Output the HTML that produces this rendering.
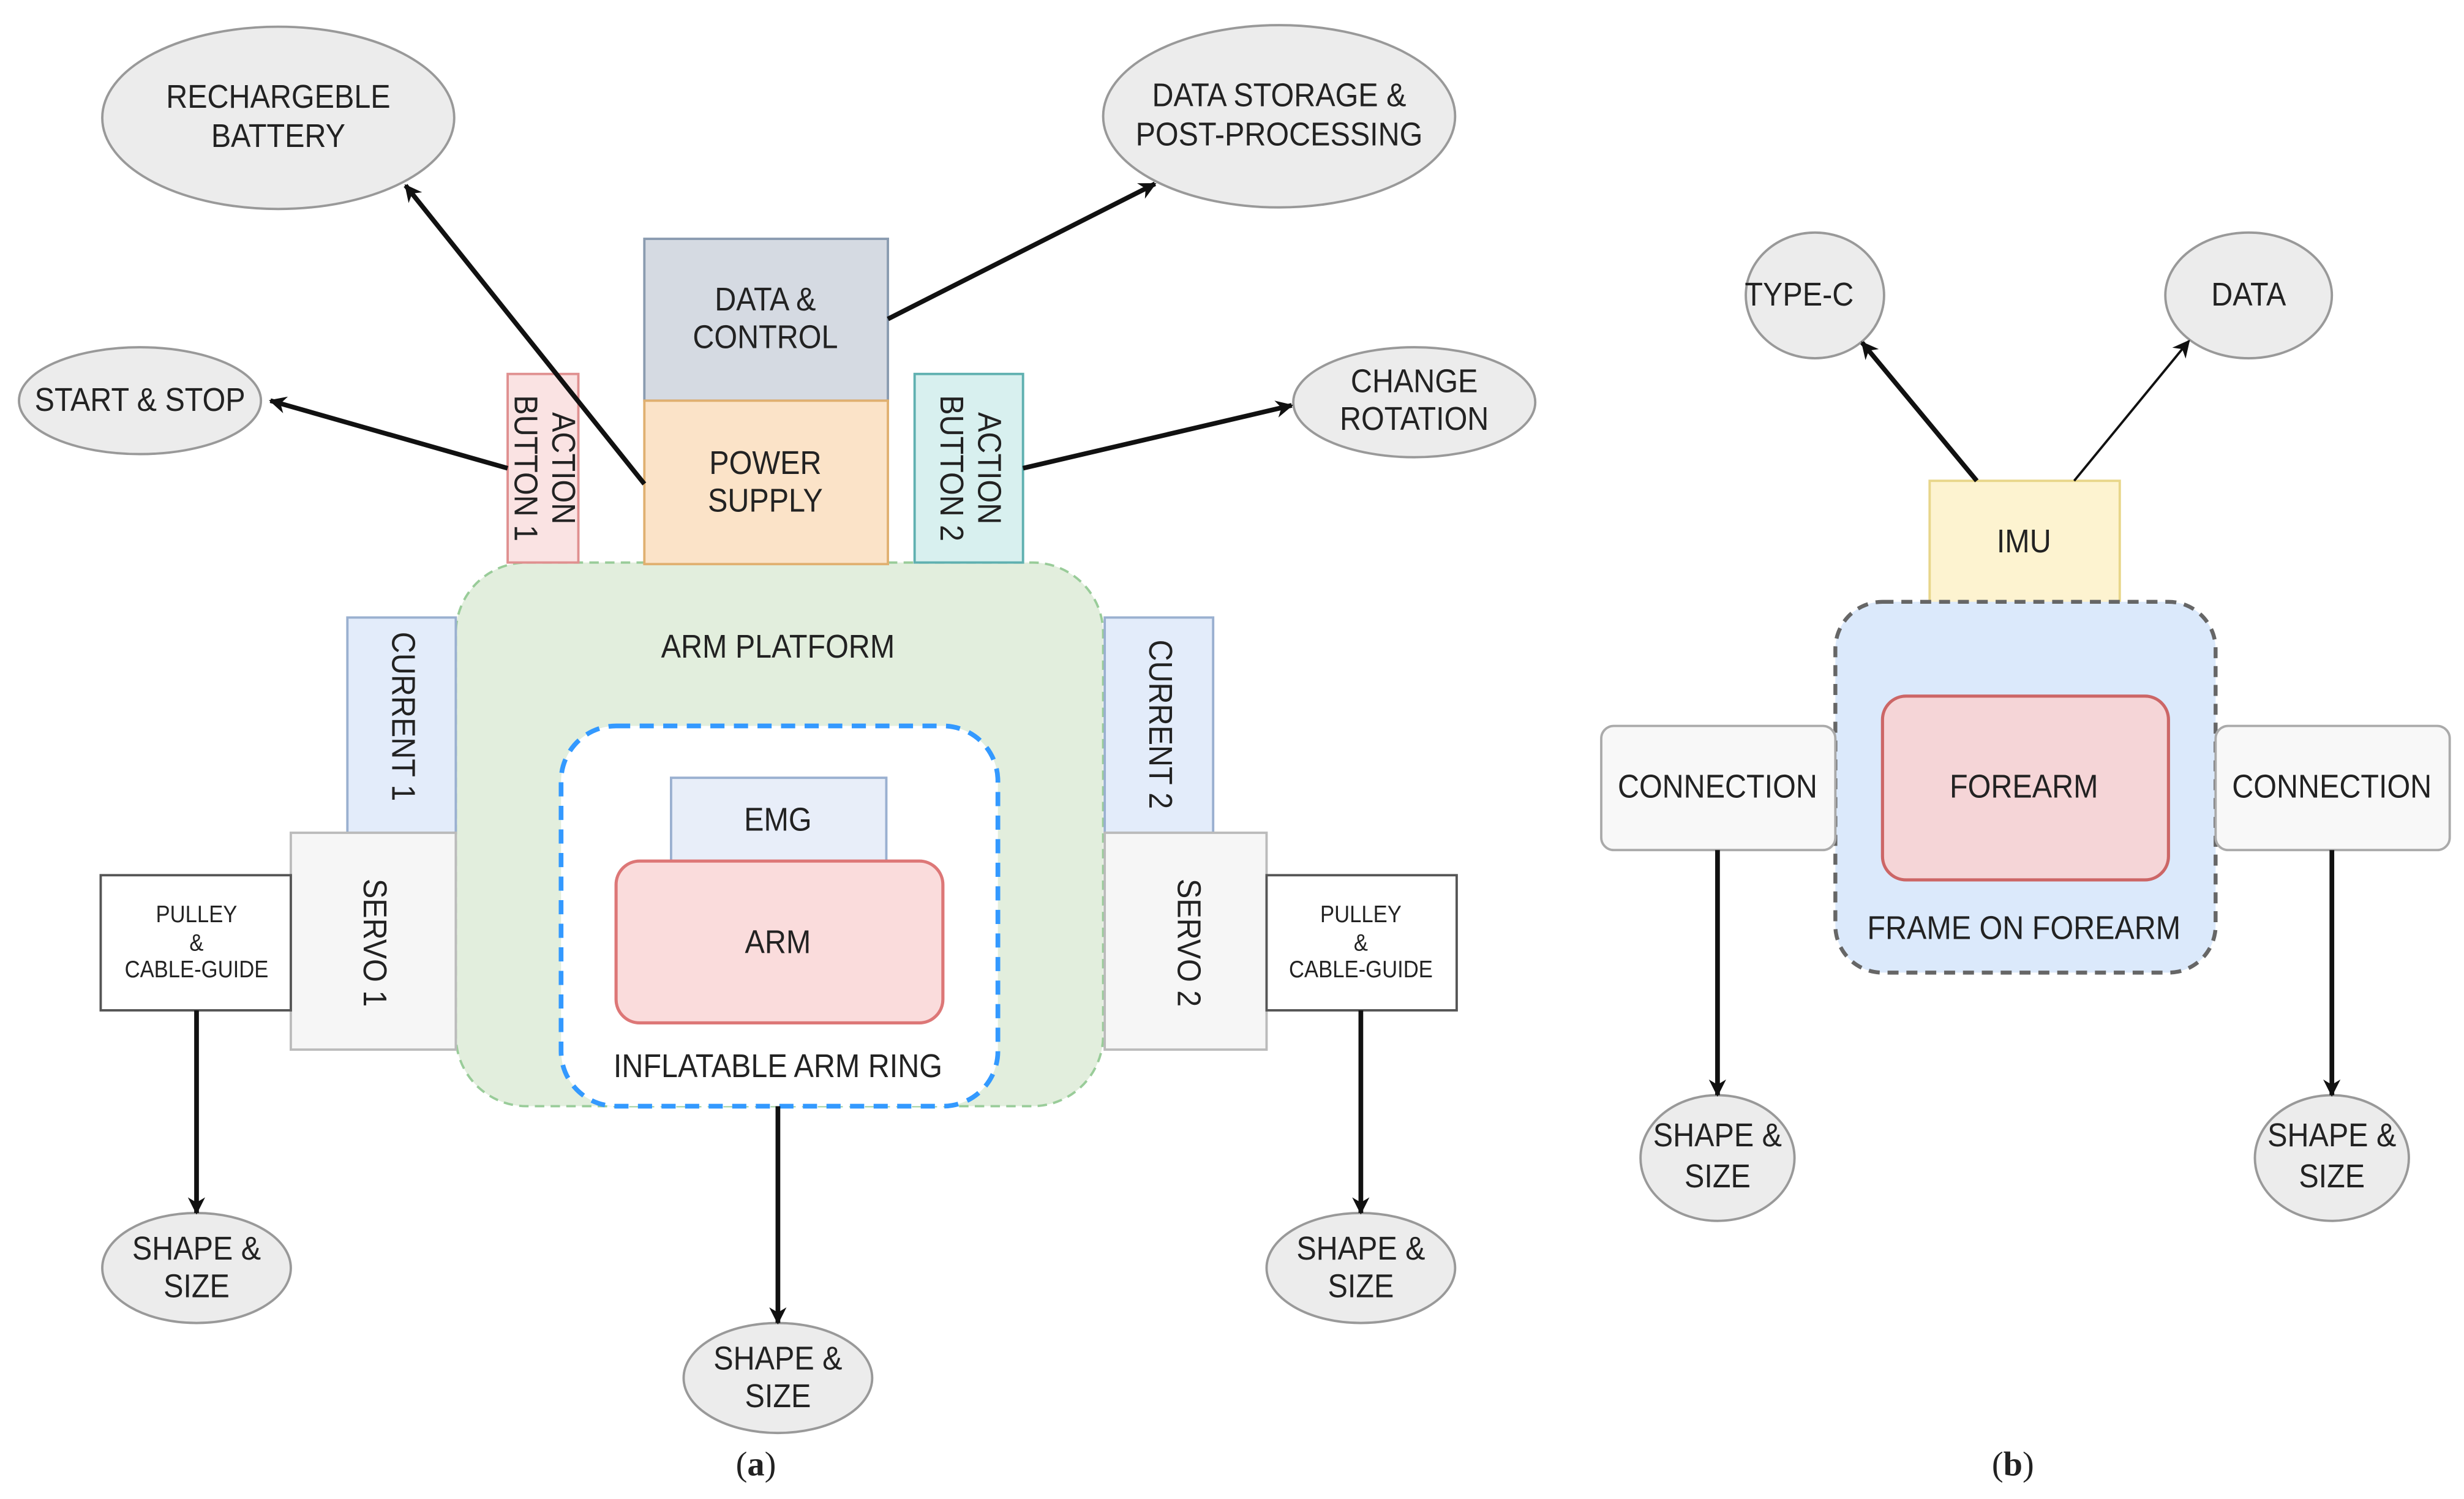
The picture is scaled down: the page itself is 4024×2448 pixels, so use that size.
<!DOCTYPE html>
<html><head><meta charset="utf-8"><style>
html,body{margin:0;padding:0;background:#fff;width:4024px;height:2448px;overflow:hidden}
svg{display:block}
text{font-family:"Liberation Sans Narrow","Liberation Sans",sans-serif;fill:#222;text-anchor:middle;dominant-baseline:middle;transform-box:fill-box;transform-origin:center;transform:scaleX(0.9)}
text.cap{transform:none}
</style></head><body>
<svg width="4024" height="2448" viewBox="0 0 1568 954" xmlns="http://www.w3.org/2000/svg">
<defs>
<marker id="ah" viewBox="0 0 10 10" refX="9" refY="5" markerWidth="5" markerHeight="5" orient="auto" markerUnits="userSpaceOnUse" style="overflow:visible">
<path d="M0,0 L10,5 L0,10 L3,5 Z" fill="#111" transform="scale(2.2) translate(-5,-2.7)"/>
</marker>
</defs>
<g stroke="#999" stroke-width="1.5" fill="#ececec">
<ellipse cx="177" cy="75" rx="112" ry="58"/>
<ellipse cx="814" cy="74" rx="112" ry="58"/>
<ellipse cx="89" cy="255" rx="77" ry="34"/>
<ellipse cx="900" cy="256" rx="77" ry="35"/>
<ellipse cx="125" cy="807" rx="60" ry="35"/>
<ellipse cx="495" cy="877" rx="60" ry="35"/>
<ellipse cx="866" cy="807" rx="60" ry="35"/>
<ellipse cx="1155" cy="188" rx="44" ry="40"/>
<ellipse cx="1431" cy="188" rx="53" ry="40"/>
<ellipse cx="1093" cy="737" rx="49" ry="40"/>
<ellipse cx="1484" cy="737" rx="49" ry="40"/>
</g>
<rect x="290" y="358" width="412" height="346" rx="45" fill="#e2eedd" stroke="#9c9" stroke-width="1.5" stroke-dasharray="6,4"/>
<rect x="410" y="152" width="155" height="103" fill="#d5dae2" stroke="#8a9bb0" stroke-width="1.5"/>
<rect x="410" y="255" width="155" height="104" fill="#fbe3c8" stroke="#e0b070" stroke-width="1.5"/>
<rect x="323" y="238" width="45" height="120" fill="#fae3e3" stroke="#e09090" stroke-width="1.5"/>
<rect x="582" y="238" width="69" height="120" fill="#d8f0ef" stroke="#5fb0b0" stroke-width="1.5"/>
<rect x="221" y="393" width="69" height="137" fill="#e3ecfa" stroke="#9ab0d0" stroke-width="1.5"/>
<rect x="703" y="393" width="69" height="137" fill="#e3ecfa" stroke="#9ab0d0" stroke-width="1.5"/>
<rect x="185" y="530" width="105" height="138" fill="#f6f6f6" stroke="#bbb" stroke-width="1.5"/>
<rect x="703" y="530" width="103" height="138" fill="#f6f6f6" stroke="#bbb" stroke-width="1.5"/>
<rect x="64" y="557" width="121" height="86" fill="#fff" stroke="#555" stroke-width="1.5"/>
<rect x="806" y="557" width="121" height="86" fill="#fff" stroke="#555" stroke-width="1.5"/>
<rect x="357" y="462" width="278" height="242" rx="35" fill="#fff" stroke="#3399ff" stroke-width="3" stroke-dasharray="9,6"/>
<rect x="427" y="495" width="137" height="53" fill="#e8eef9" stroke="#9ab0d0" stroke-width="1.5"/>
<rect x="392" y="548" width="208" height="103" rx="15" fill="#fadcdc" stroke="#d77" stroke-width="2"/>
<rect x="1228" y="306" width="121" height="78" fill="#fdf3d0" stroke="#e8d68a" stroke-width="1.5"/>
<rect x="1168" y="383" width="242" height="236" rx="30" fill="#dbe9fb" stroke="#666" stroke-width="2.5" stroke-dasharray="7,5"/>
<rect x="1198" y="443" width="182" height="117" rx="15" fill="#f5d5d7" stroke="#c66" stroke-width="2"/>
<rect x="1019" y="462" width="149" height="79" rx="8" fill="#f8f8f8" stroke="#aaa" stroke-width="1.5"/>
<rect x="1410" y="462" width="149" height="79" rx="8" fill="#f8f8f8" stroke="#aaa" stroke-width="1.5"/>
<g stroke="#111" stroke-width="3" fill="none" marker-end="url(#ah)">
<line x1="410" y1="308" x2="258" y2="118"/>
<line x1="565" y1="203" x2="735" y2="117"/>
<line x1="323" y1="298" x2="172" y2="255"/>
<line x1="651" y1="298" x2="822" y2="258"/>
<line x1="125" y1="643" x2="125" y2="772"/>
<line x1="495" y1="704" x2="495" y2="842"/>
<line x1="866" y1="643" x2="866" y2="772"/>
<line x1="1258" y1="306" x2="1185" y2="218"/>
<line x1="1320" y1="306" x2="1393" y2="217" stroke-width="1.5"/>
<line x1="1093" y1="541" x2="1093" y2="697"/>
<line x1="1484" y1="541" x2="1484" y2="697"/>
</g>
<g font-size="21">
<text x="177" y="63">RECHARGEBLE</text><text x="177" y="88">BATTERY</text>
<text x="814" y="62">DATA STORAGE &amp;</text><text x="814" y="87">POST-PROCESSING</text>
<text x="89" y="256">START &amp; STOP</text>
<text x="900" y="244">CHANGE</text><text x="900" y="268">ROTATION</text>
<text x="487" y="192">DATA &amp;</text><text x="487" y="216">CONTROL</text>
<text x="487" y="296">POWER</text><text x="487" y="320">SUPPLY</text>
<text x="495" y="413">ARM PLATFORM</text>
<text x="495" y="523">EMG</text>
<text x="495" y="601">ARM</text>
<text x="495" y="680">INFLATABLE ARM RING</text>
<g transform="translate(345,298) rotate(90)"><text x="0" y="-12">ACTION</text><text x="0" y="12">BUTTON 1</text></g>
<g transform="translate(616,298) rotate(90)"><text x="0" y="-12">ACTION</text><text x="0" y="12">BUTTON 2</text></g>
<g transform="translate(255,456) rotate(90)"><text>CURRENT 1</text></g>
<g transform="translate(737,461) rotate(90)"><text>CURRENT 2</text></g>
<g transform="translate(237,600) rotate(90)"><text>SERVO 1</text></g>
<g transform="translate(755,600) rotate(90)"><text>SERVO 2</text></g>
<text x="125" y="796">SHAPE &amp;</text><text x="125" y="820">SIZE</text>
<text x="495" y="866">SHAPE &amp;</text><text x="495" y="890">SIZE</text>
<text x="866" y="796">SHAPE &amp;</text><text x="866" y="820">SIZE</text>
<text x="1145" y="189">TYPE-C</text>
<text x="1431" y="189">DATA</text>
<text x="1288" y="346">IMU</text>
<text x="1288" y="502">FOREARM</text>
<text x="1288" y="592">FRAME ON FOREARM</text>
<text x="1093" y="502">CONNECTION</text>
<text x="1484" y="502">CONNECTION</text>
<text x="1093" y="724">SHAPE &amp;</text><text x="1093" y="750">SIZE</text>
<text x="1484" y="724">SHAPE &amp;</text><text x="1484" y="750">SIZE</text>
</g>
<g font-size="15">
<text x="125" y="583">PULLEY</text><text x="125" y="601">&amp;</text><text x="125" y="618">CABLE-GUIDE</text>
<text x="866" y="583">PULLEY</text><text x="866" y="601">&amp;</text><text x="866" y="618">CABLE-GUIDE</text>
</g>
<g font-size="22">
<text class="cap" x="481" y="934" style="font-family:'Liberation Serif',serif">(<tspan font-weight="bold">a</tspan>)</text>
<text class="cap" x="1281" y="934" style="font-family:'Liberation Serif',serif">(<tspan font-weight="bold">b</tspan>)</text>
</g>
</svg>
</body></html>
